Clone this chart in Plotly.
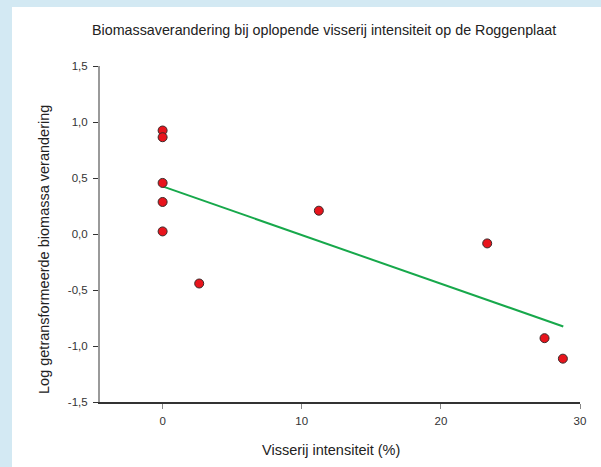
import plotly.graph_objects as go

# Data
intensity = [0, 0, 0, 0, 0, 2.63, 11.23, 23.33, 27.45, 28.77]
log_biomass = [0.924, 0.864, 0.456, 0.286, 0.023, -0.442, 0.208, -0.084, -0.93, -1.113]
fit_x = [0, 28.8]
fit_y = [0.425, -0.826]

x_ticks = [0, 10, 20, 30]
x_labels = ["0", "10", "20", "30"]
y_ticks = [-1.5, -1.0, -0.5, 0.0, 0.5, 1.0, 1.5]
y_labels = ["-1,5", "-1,0", "-0,5", "0,0", "0,5", "1,0", "1,5"]

title_text = "Biomassaverandering bij oplopende visserij intensiteit op de Roggenplaat"
x_title = "Visserij intensiteit (%)"
y_title = "Log getransformeerde biomassa verandering"

FONT = "Liberation Sans, Arial, sans-serif"

fig = go.Figure()
fig.add_trace(go.Scatter(
    x=fit_x, y=fit_y, mode="lines",
    line=dict(color="#17a84b", width=2),
    hoverinfo="skip", showlegend=False,
))
fig.add_trace(go.Scatter(
    x=intensity, y=log_biomass, mode="markers",
    marker=dict(color="#e8141c", size=9, line=dict(color="#3a2a2a", width=1)),
    showlegend=False,
))

L, R, T, B = 100, 21, 66, 65
W, H = 601, 467
pw, ph = W - L - R, H - T - B

def px(xp):
    return (xp - L) / pw

def py(yp):
    return (H - B - yp) / ph

fig.update_layout(
    width=W, height=H,
    margin=dict(l=L, r=R, t=T, b=B),
    paper_bgcolor="#d3e9f3",
    plot_bgcolor="rgba(0,0,0,0)",
    font=dict(family=FONT, size=11, color="#333333"),
    shapes=[dict(
        type="rect", xref="paper", yref="paper", layer="below",
        x0=px(12), x1=px(W + 20), y0=py(H + 20), y1=py(7),
        fillcolor="white", line=dict(width=0),
    )],
    annotations=[
        dict(text=title_text, xref="paper", yref="paper", x=px(324), y=py(30),
             showarrow=False, xanchor="center", yanchor="middle",
             font=dict(family=FONT, size=14.3, color="#222222")),
        dict(text=x_title, xref="paper", yref="paper", x=px(331), y=py(450),
             showarrow=False, xanchor="center", yanchor="middle",
             font=dict(family=FONT, size=14.5, color="#222222")),
        dict(text=y_title, xref="paper", yref="paper", x=px(44), y=py(250),
             showarrow=False, xanchor="center", yanchor="middle", textangle=-90,
             font=dict(family=FONT, size=14.5, color="#222222")),
    ],
)

fig.update_xaxes(
    range=[-4.5, 30], tickvals=x_ticks, ticktext=x_labels,
    showgrid=False, zeroline=False,
    showline=True, linecolor="#333333", linewidth=1.5,
    ticks="outside", ticklen=5, tickcolor="#888888", tickwidth=1,
    ticklabelstandoff=2,
    tickfont=dict(family=FONT, size=11.5, color="#333333"),
)
fig.update_yaxes(
    range=[-1.5, 1.5], tickvals=y_ticks, ticktext=y_labels,
    showgrid=False, zeroline=False,
    showline=True, linecolor="#9a9a9a", linewidth=2,
    ticks="outside", ticklen=5, tickcolor="#333333", tickwidth=1,
    ticklabelstandoff=3,
    tickfont=dict(family=FONT, size=11.5, color="#333333"),
)

fig.write_html("out.html", config={"displayModeBar": False},
               post_script="document.body.style.margin='0';")
